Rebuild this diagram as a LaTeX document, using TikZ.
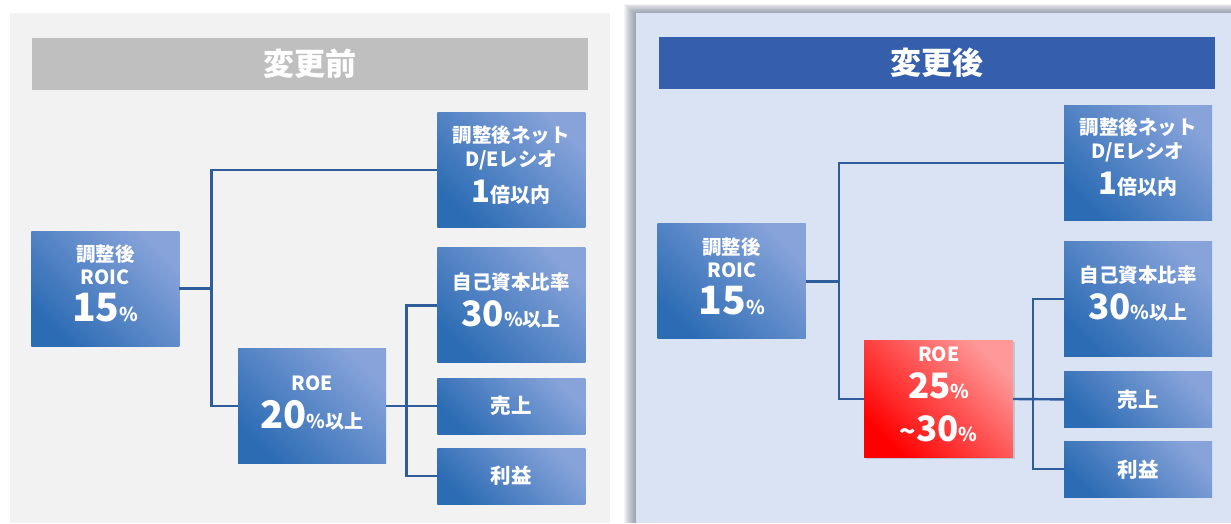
\documentclass[tikz,border=0pt]{standalone}
\usepackage{fontspec}
\setmainfont{Noto Sans CJK JP}
\usetikzlibrary{shadows}
\definecolor{pageL}{RGB}{242,242,242}
\definecolor{pageR}{RGB}{218,227,243}
\definecolor{titleL}{RGB}{191,191,191}
\definecolor{titleR}{RGB}{53,94,173}
\definecolor{boxdark}{RGB}{44,108,180}
\definecolor{boxlight}{RGB}{135,163,218}
\definecolor{reddark}{RGB}{255,0,0}
\definecolor{redlight}{RGB}{255,152,152}
\definecolor{conncol}{RGB}{47,93,155}
\definecolor{shadowcol}{RGB}{100,110,130}
\newcommand\fsz[1]{\fontsize{#1}{#1}\selectfont}
\begin{document}
\begin{tikzpicture}[x=1pt,y=-1pt,
  bluebox/.style={rectangle, inner sep=0pt, outer sep=0pt, minimum width=148pt,
    top color=boxlight, bottom color=boxdark, shading angle=-45},
  redbox/.style={rectangle, inner sep=0pt, outer sep=0pt, minimum width=149pt,
    drop shadow={opacity=0.3, shadow xshift=1.5pt, shadow yshift=-1.5pt},
    top color=redlight, bottom color=reddark, shading angle=-45},
  tallbox/.style={minimum height=115pt},
  shortbox/.style={minimum height=56pt},
  titlebar/.style={rectangle, inner sep=0pt, outer sep=0pt, minimum width=556pt, minimum height=52pt},
  conn/.style={draw=conncol, line width=2.4pt},
  txt/.style={text=white, font=\bfseries, inner sep=0pt, anchor=base},
  ttl/.style={text=white, font=\bfseries\fsz{31}, inner sep=0pt, anchor=center}]
\useasboundingbox (0,0) rectangle (1231,523);
\fill[white] (0,0) rectangle (1231,523);
% left panel
\fill[pageL] (10,13.3) rectangle (610,523);
% right panel shadow and panel
\foreach \i in {1,...,12}{
  \fill[shadowcol, opacity=0.07] (636-\i,13.3-0.8*\i) rectangle (1231,523);
}
\fill[pageR] (636,13.3) rectangle (1231,523);

% ===== left: before =====
\node[titlebar, fill=titleL] (barL) at (310.2,63.5) {};
\node[ttl] (tL) at (barL.center) {変更前};

\node[bluebox, tallbox] (roicL) at (105.3,288.5) {};
\node[bluebox, tallbox] (deL) at (511.3,170.2) {};
\node[bluebox, tallbox] (jikoL) at (511.3,305.3) {};
\node[bluebox, shortbox] (uriL) at (511.3,406) {};
\node[bluebox, shortbox] (riekiL) at (511.3,476) {};
\node[bluebox, tallbox] (roeL) at (312,406) {};

\coordinate (jL) at (211.5,288.5);
\coordinate (kL) at (406.5,406);
\draw[conn] (roicL.east) -- (jL);
\draw[conn] (deL.west) -| (jL) |- (roeL.west);
\draw[conn] (roeL.east) -- (uriL.west);
\draw[conn] (jikoL.west) -| (kL) |- (riekiL.west);

\node[txt] (roicL1) at (105.3,261.5) {\fsz{19.5}調整後};
\node[txt] (roicL2) at (105.3,284) {\fsz{19.5}ROIC};
\node[txt] (roicL3) at (105.3,321.5) {\fsz{39}15\fsz{19}\%};

\node[txt] (deL1) at (511.3,142.2) {\fsz{19.5}調整後ネット};
\node[txt] (deL2) at (511.3,166) {\fsz{19.5}D/Eレシオ};
\node[txt] (deL3) at (511.3,202.2) {\fsz{31}1\fsz{20}倍以内};

\node[txt] (jikoL1) at (511.3,289.5) {\fsz{19.5}自己資本比率};
\node[txt] (jikoL2) at (511.3,326.5) {\fsz{35}30\fsz{19}\%以上};

\node[txt, anchor=center] (uriL1) at (uriL.center) {\fsz{20.5}売上};
\node[txt, anchor=center] (riekiL1) at (riekiL.center) {\fsz{20.5}利益};

\node[txt] (roeL1) at (312,390) {\fsz{19.5}ROE};
\node[txt] (roeL2) at (312,428) {\fsz{38}20\fsz{19}\%以上};

% ===== right: after =====
\node[titlebar, fill=titleR] (barR) at (937.2,63) {};
\node[ttl] (tR) at (barR.center) {変更後};

\node[bluebox, tallbox] (roicR) at (731.7,281.4) {};
\node[bluebox, tallbox] (deR) at (1138,162.7) {};
\node[bluebox, tallbox] (jikoR) at (1138,298.9) {};
\node[bluebox, shortbox] (uriR) at (1138,399.4) {};
\node[bluebox, shortbox] (riekiR) at (1138,469.2) {};
\node[redbox, minimum height=116.6pt] (roeR) at (938.7,399) {};

\coordinate (jR) at (839,281.4);
\coordinate (kR) at (1032.7,399);
\draw[conn] (roicR.east) -- (jR);
\draw[conn] (deR.west) -| (jR) |- (roeR.west);
\draw[conn] (roeR.east) -- (uriR.west);
\draw[conn] (jikoR.west) -| (kR) |- (riekiR.west);

\node[txt] (roicR1) at (731.7,254.5) {\fsz{19.5}調整後};
\node[txt] (roicR2) at (731.7,277) {\fsz{19.5}ROIC};
\node[txt] (roicR3) at (731.7,314.5) {\fsz{39}15\fsz{19}\%};

\node[txt] (deR1) at (1138,134.8) {\fsz{19.5}調整後ネット};
\node[txt] (deR2) at (1138,158.6) {\fsz{19.5}D/Eレシオ};
\node[txt] (deR3) at (1138,194.8) {\fsz{31}1\fsz{20}倍以内};

\node[txt] (jikoR1) at (1138,282.5) {\fsz{19.5}自己資本比率};
\node[txt] (jikoR2) at (1138,319.5) {\fsz{35}30\fsz{19}\%以上};

\node[txt, anchor=center] (uriR1) at (uriR.center) {\fsz{20.5}売上};
\node[txt, anchor=center] (riekiR1) at (riekiR.center) {\fsz{20.5}利益};

\node[txt] (roeR1) at (938.7,361.7) {\fsz{19.5}ROE};
\node[txt] (roeR2) at (938.7,398.2) {\fsz{35}25\fsz{19}\%};
\node[txt] (roeR3) at (938.7,441.7) {\fsz{27}\char"7E\fsz{35}30\fsz{19}\%};
\end{tikzpicture}
\end{document}
